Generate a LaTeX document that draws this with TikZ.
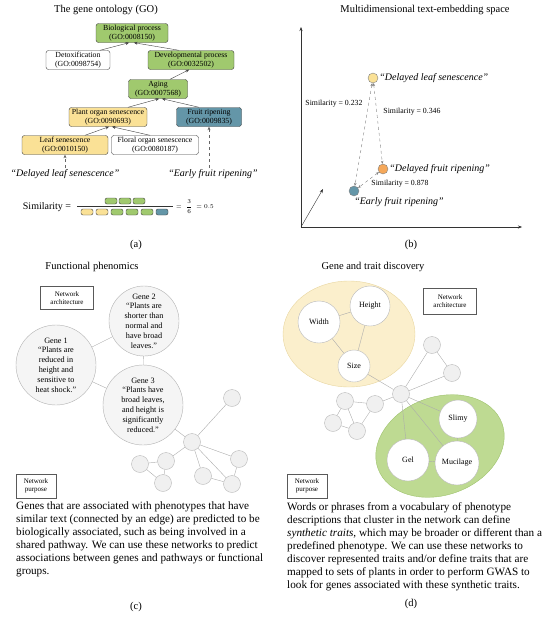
\documentclass[tikz,border=0pt]{standalone}
\usepackage{fontspec}
\setmainfont{Liberation Serif}
\usepackage{tikz}
\usetikzlibrary{arrows.meta, positioning}
\definecolor{gogreen}{RGB}{160,201,110}
\definecolor{goyellow}{RGB}{250,225,150}
\definecolor{goteal}{RGB}{100,150,168}
\definecolor{ptorange}{RGB}{245,168,90}
\definecolor{paleyellow}{RGB}{251,239,204}
\definecolor{paleedge}{RGB}{232,214,160}
\definecolor{leafgreen}{RGB}{190,218,146}
\definecolor{leafedge}{RGB}{158,194,108}

\begin{document}
\begin{tikzpicture}[x=1pt, y=-1pt,
        gobox/.style={rectangle, rounded corners=2.5pt, draw=black!75, align=center, minimum height=19pt, inner sep=1pt, font=\fontsize{7.8}{9}\selectfont},
        pill/.style={rectangle, rounded corners=2pt, draw=black!75, minimum width=12pt, minimum height=6pt, inner sep=0pt},
        title/.style={font=\fontsize{10.5}{12}\selectfont},
        quote/.style={font=\fontsize{10}{11}\selectfont\itshape, inner sep=1pt},
        simtxt/.style={font=\fontsize{7.8}{9}\selectfont},
        isa/.style={-{Stealth[length=3.5pt, width=3pt]}, black!75},
        maps/.style={-{Stealth[length=3.5pt, width=3pt]}, dashed, black!60},
        simline/.style={{Stealth[length=3pt, width=2.5pt]}-{Stealth[length=3pt, width=2.5pt]}, dashed, gray},
        axis/.style={-{Stealth[length=4pt, width=3pt]}, black!80},
        pt/.style={circle, draw=gray, minimum size=10pt, inner sep=0pt},
        netbox/.style={rectangle, draw=black!65, semithick, align=center, inner sep=1pt, font=\fontsize{7}{8.5}\selectfont},
        genecirc/.style={circle, draw=gray!60, fill=gray!8, align=center, inner sep=0pt, font=\fontsize{8.2}{9.8}\selectfont},
        dot/.style={circle, draw=gray!55, fill=gray!12, minimum size=17pt, inner sep=0pt},
        trait/.style={circle, draw=gray!55, fill=white, inner sep=0pt, font=\fontsize{8}{9}\selectfont},
        edge/.style={gray!65},
        para/.style={align=left, inner sep=0pt, font=\fontsize{11.2}{13}\selectfont},
    ]
    \useasboundingbox (0,0) rectangle (553,624);

    % (a) gene ontology
    \node[title] (titlea) at (106,10) {The gene ontology (GO)};
    \node[gobox, fill=gogreen, minimum width=72pt]  (bio)    at (132,33)  {Biological process\\(GO:0008150)};
    \node[gobox, fill=white, minimum width=64pt]    (detox)  at (78,60)   {Detoxification\\(GO:0098754)};
    \node[gobox, fill=gogreen, minimum width=86pt]  (dev)    at (191,60)  {Developmental process\\(GO:0032502)};
    \node[gobox, fill=gogreen, minimum width=59pt]  (aging)  at (158,89)  {Aging\\(GO:0007568)};
    \node[gobox, fill=goyellow, minimum width=78pt] (plant)  at (108,117) {Plant organ senescence\\(GO:0090693)};
    \node[gobox, fill=goteal, minimum width=65pt]   (fruit)  at (209,117) {Fruit ripening\\(GO:0009835)};
    \node[gobox, fill=goyellow, minimum width=86pt] (leaf)   at (65,145)  {Leaf senescence\\(GO:0010150)};
    \node[gobox, fill=white, minimum width=87pt]    (floral) at (155,145) {Floral organ senescence\\(GO:0080187)};

    \draw[isa] ([xshift=22pt]detox.north) -- ([xshift=-3pt]bio.south);
    \draw[isa] ([xshift=-12pt]dev.north) -- ([xshift=2pt]bio.south);
    \draw[isa] ([xshift=12pt]aging.north) -- ([xshift=-2pt]dev.south);
    \draw[isa] ([xshift=20pt]plant.north) -- ([xshift=1pt]aging.south);
    \draw[isa] ([xshift=-10pt]fruit.north) -- ([xshift=4pt]aging.south);
    \draw[isa] ([xshift=20pt]leaf.north) -- ([xshift=1pt]plant.south);
    \draw[isa] ([xshift=-5pt]floral.north) -- ([xshift=4pt]plant.south);

    \node[quote] (dleaf)  at (65,174)  {``Delayed leaf senescence''};
    \node[quote] (efruit) at (213,174) {``Early fruit ripening''};
    \draw[maps] (dleaf.north) -- (leaf.south);
    \draw[maps] (fruit.south |- efruit.north) -- (fruit.south);

    % similarity fraction
    \node[font=\fontsize{10}{12}\selectfont] (simlbl) at (47,207) {Similarity =};
    \draw[black!80] (77,206.5) -- (173,206.5);
    \foreach \x [count=\i] in {111,125,139}
        \node[pill, fill=gogreen] (top\i) at (\x,201) {};
    \foreach \x/\c [count=\i] in {87/goyellow, 102/goyellow, 117/gogreen, 132/gogreen, 147/gogreen, 162/goteal}
        \node[pill, fill=\c] (bot\i) at (\x,212) {};
    \node[font=\fontsize{6.5}{8}\selectfont] (ratio) at (195,207) {$=\;\displaystyle\frac{3}{6}\;=0.5$};

    \node[title] (taga) at (136,245) {(a)};

    % (b) embedding space
    \node[title] (titleb) at (425,10) {Multidimensional text-embedding space};
    \coordinate (orig) at (301,227);
    \draw[axis] (orig) -- (301,27);
    \draw[axis] (orig) -- (522,227);
    \draw[axis] (orig) -- (323,189);

    \node[pt, fill=goyellow] (ptleaf)  at (373,78)  {};
    \node[pt, fill=ptorange] (ptfruit) at (383,169) {};
    \node[pt, fill=goteal]   (ptearly) at (354,191) {};
    \node[quote, right=0pt of ptleaf]  (lblleaf)  {``Delayed leaf senescence''};
    \node[quote, right=0pt of ptfruit] (lblfruit) {``Delayed fruit ripening''};
    \node[quote] (lblearly) at (399,202) {``Early fruit ripening''};

    \draw[simline] (ptleaf) -- (ptearly);
    \draw[simline] (ptleaf) -- (ptfruit);
    \draw[simline] (ptfruit) -- (ptearly);
    \node[simtxt] (sim1) at (334,104) {Similarity = 0.232};
    \node[simtxt] (sim2) at (412,112) {Similarity = 0.346};
    \node[simtxt] (sim3) at (400,184) {Similarity = 0.878};

    \node[title] (tagb) at (411,245) {(b)};

    % (c) functional phenomics
    \node[title] (titlec) at (92,267) {Functional phenomics};
    \node[netbox, minimum width=53pt, minimum height=23pt] (archc) at (67,298) {Network\\architecture};
    \node[genecirc, minimum size=70pt] (gene2) at (144,321) {Gene 2\\“Plants are\\shorter than\\normal and\\have broad\\leaves.”};
    \node[genecirc, minimum size=80pt] (gene1) at (56,365)  {Gene 1\\“Plants are\\reduced in\\height and\\sensitive to\\heat shock.”};
    \node[genecirc, minimum size=80pt] (gene3) at (143,405) {Gene 3\\“Plants have\\broad leaves,\\and height is\\significantly\\reduced.”};

    \node[dot] (c1)   at (232,398) {};
    \node[dot] (chub) at (192,442) {};
    \node[dot] (c2)   at (166,461) {};
    \node[dot] (c3)   at (140,464) {};
    \node[dot] (c4)   at (163,483) {};
    \node[dot] (c5)   at (203,476) {};
    \node[dot] (c6)   at (232,484) {};
    \node[dot] (c7)   at (239,459) {};

    \foreach \a/\b in {gene1/gene2, gene2/gene3, gene1/gene3, gene3/chub, chub/c1, chub/c2, c2/c3, c3/c4, c2/c4, chub/c7, chub/c5, chub/c6, c5/c6, c7/c6}
        \draw[edge] (\a) -- (\b);

    \node[netbox, minimum width=40pt, minimum height=24pt] (purpc) at (36,486) {Network\\purpose};
    \node[para, anchor=north west] (textc) at (16,502) {Genes that are associated with phenotypes that have\\
        similar text (connected by an edge) are predicted to be\\
        biologically associated, such as being involved in a\\
        shared pathway. We can use these networks to predict\\
        associations between genes and pathways or functional\\
        groups.};

    \node[title] (tagc) at (136,607) {(c)};

    % (d) gene and trait discovery
    \node[title] (titled) at (373,267) {Gene and trait discovery};
    \node[netbox, minimum width=53pt, minimum height=26pt] (archd) at (450,301) {Network\\architecture};

    \draw[draw=paleedge, fill=paleyellow] (349,334) ellipse [x radius=66, y radius=53];
    \draw[draw=leafedge, fill=leafgreen, rotate around={20:(440,446)}] (440,446) ellipse [x radius=66, y radius=49];

    \node[trait, minimum size=42pt] (width)  at (319,322) {Width};
    \node[trait, minimum size=40pt] (height) at (370,306) {Height};
    \node[trait, minimum size=32pt] (size)   at (354,366) {Size};
    \node[trait, minimum size=38pt] (slimy)  at (458,419) {Slimy};
    \node[trait, minimum size=42pt] (gel)    at (408,460) {Gel};
    \node[trait, minimum size=44pt] (muc)    at (457,463) {Mucilage};

    \node[dot] (dhub) at (401,394) {};
    \node[dot] (d1)   at (432,345) {};
    \node[dot] (d2)   at (452,373) {};
    \node[dot] (d3)   at (345,401) {};
    \node[dot] (d4)   at (375,404) {};
    \node[dot] (d5)   at (333,423) {};
    \node[dot] (d6)   at (357,431) {};

    \foreach \a/\b in {width/height, width/size, height/size, size/dhub, dhub/d1, d1/d2, dhub/d2, dhub/d4, d4/d3, d3/d5, d3/d6, d5/d6, d6/d4, dhub/slimy, dhub/gel, dhub/muc, slimy/muc, gel/muc}
        \draw[edge] (\a) -- (\b);

    \node[netbox, minimum width=40pt, minimum height=24pt] (purpd) at (307,486) {Network\\purpose};
    \node[para, anchor=north west] (textd) at (287,502) {Words or phrases from a vocabulary of phenotype\\
        descriptions that cluster in the network can define\\
        \textit{synthetic traits}, which may be broader or different than a\\
        predefined phenotype. We can use these networks to\\
        discover represented traits and/or define traits that are\\
        mapped to sets of plants in order to perform GWAS to\\
        look for genes associated with these synthetic traits.};

    \node[title] (tagd) at (411,604) {(d)};
\end{tikzpicture}
\end{document}
